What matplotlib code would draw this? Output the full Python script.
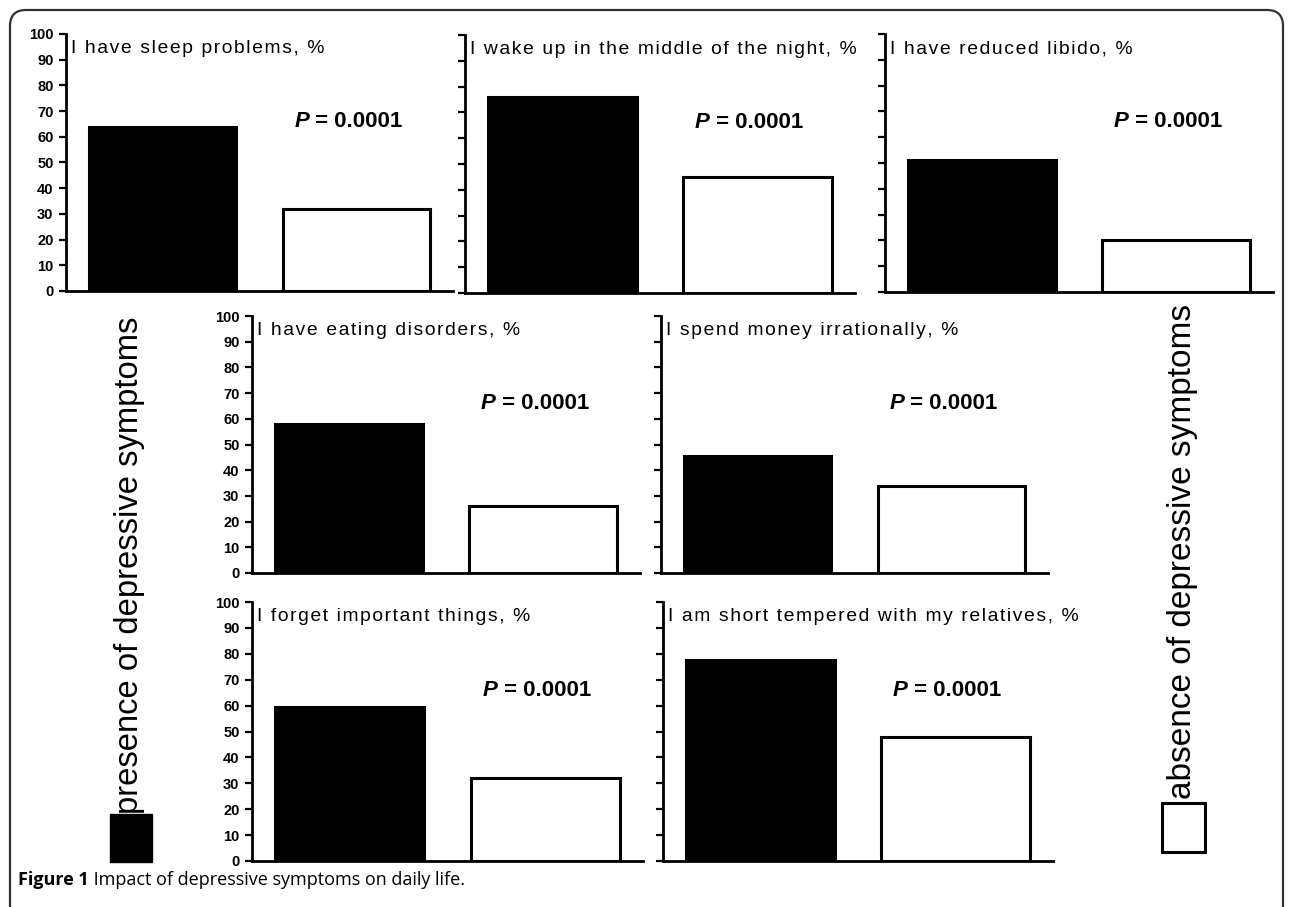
import matplotlib
matplotlib.use("Agg")
import matplotlib.pyplot as plt
from matplotlib.patches import Rectangle, FancyBboxPatch
from matplotlib.transforms import IdentityTransform

# ==========================================
# DATA
# ==========================================
TITLES = [
    "I have sleep problems, %",
    "I wake up in the middle of the night, %",
    "I have reduced libido, %",
    "I have eating disorders, %",
    "I spend money irrationally, %",
    "I forget important things, %",
    "I am short tempered with my relatives, %",
]
PRESENCE = [64, 76, 51, 58, 45.5, 59.5, 77.5]   # black bars
ABSENCE = [32, 45, 20, 26, 34, 32, 48]          # white bars
P_VALUES = ["0.0001"] * 7
Y_TICKS = list(range(0, 101, 10))

LEGEND_PRESENCE = "presence of depressive symptoms"
LEGEND_ABSENCE = "absence of depressive symptoms"
CAPTION_BOLD = "Figure 1"
CAPTION_TEXT = " Impact of depressive symptoms on daily life."

# ==========================================
# LAYOUT (pixel boxes: left, top, right, bottom)
# ==========================================
W, H = 1290, 907
PANEL_BOXES = [
    (66, 34, 453, 291),
    (465, 35, 855, 293),
    (885, 34, 1273, 292),
    (252, 316, 640, 573),
    (661, 316, 1048, 573),
    (252, 602, 643, 861),
    (663, 602, 1053, 861),
]
SHOW_LABELS = [True, False, False, True, False, True, False]
FONT = ["Liberation Sans", "DejaVu Sans"]


def rect(x0, y0, x1, y1):
    return [x0 / W, 1 - y1 / H, (x1 - x0) / W, (y1 - y0) / H]


def spaced(s):
    # the original titles are set with loose letter spacing
    return "\u200a".join(s)


fig = plt.figure(figsize=(W / 100, H / 100), dpi=100)
fig.patch.set_facecolor("white")

for i, box in enumerate(PANEL_BOXES):
    ax = fig.add_axes(rect(*box))
    ax.bar([0, 1], [PRESENCE[i], ABSENCE[i]], width=0.76,
           color=["black", "white"], edgecolor="black", linewidth=2.2)
    ax.set_xlim(-0.5, 1.5)
    ax.set_ylim(0, 100)
    ax.set_xticks([])
    ax.set_yticks(Y_TICKS)
    for s in ["top", "right"]:
        ax.spines[s].set_visible(False)
    for s in ["left", "bottom"]:
        ax.spines[s].set_linewidth(2)
    ax.tick_params(axis="y", direction="out", length=5, width=1.6,
                   labelleft=SHOW_LABELS[i], labelsize=10.5, pad=4)
    for lab in ax.get_yticklabels():
        lab.set_fontweight("bold")
        lab.set_family(FONT)

    ax.text(0.012, 0.975, spaced(TITLES[i]), transform=ax.transAxes,
            ha="left", va="top", fontsize=13.9, family=FONT)

    t1 = ax.text(0.59, 0.66, "P", transform=ax.transAxes, ha="left",
                 va="center", fontsize=16, fontweight="bold",
                 fontstyle="italic", family=FONT)
    ax.annotate(" = " + P_VALUES[i], xy=(1, 0.5), xycoords=t1, ha="left",
                va="center", fontsize=16, fontweight="bold", family=FONT)

# legend labels on both sides
fig.text(130 / W, 1 - 565 / H, LEGEND_PRESENCE, rotation=90, ha="center",
         va="center", fontsize=23.6, family=FONT)
fig.text(1182 / W, 1 - 551 / H, LEGEND_ABSENCE, rotation=90, ha="center",
         va="center", fontsize=24, family=FONT)
fig.patches.append(Rectangle((110 / W, 1 - 862 / H), 42 / W, 48 / H,
                             facecolor="black", edgecolor="black",
                             transform=fig.transFigure))
fig.patches.append(Rectangle((1162 / W, 1 - 852 / H), 43 / W, 49 / H,
                             facecolor="white", edgecolor="black",
                             linewidth=2.2, transform=fig.transFigure))

# rounded frame, open at the bottom
frame = FancyBboxPatch((10, -40), 1273, H - 10 + 40,
                       boxstyle="round,pad=0,rounding_size=16",
                       facecolor="none", edgecolor="#333333", linewidth=1.6,
                       transform=IdentityTransform())
fig.patches.append(frame)

# caption
c1 = fig.text(18 / W, 1 - 880 / H, CAPTION_BOLD, ha="left", va="center",
              fontsize=13, fontweight="bold", family="Open Sans")
fig.axes[-1].annotate(CAPTION_TEXT, xy=(1, 0.5), xycoords=c1, ha="left",
                      va="center", fontsize=13, family="Open Sans",
                      annotation_clip=False)

fig.savefig("out.png", dpi=100)
